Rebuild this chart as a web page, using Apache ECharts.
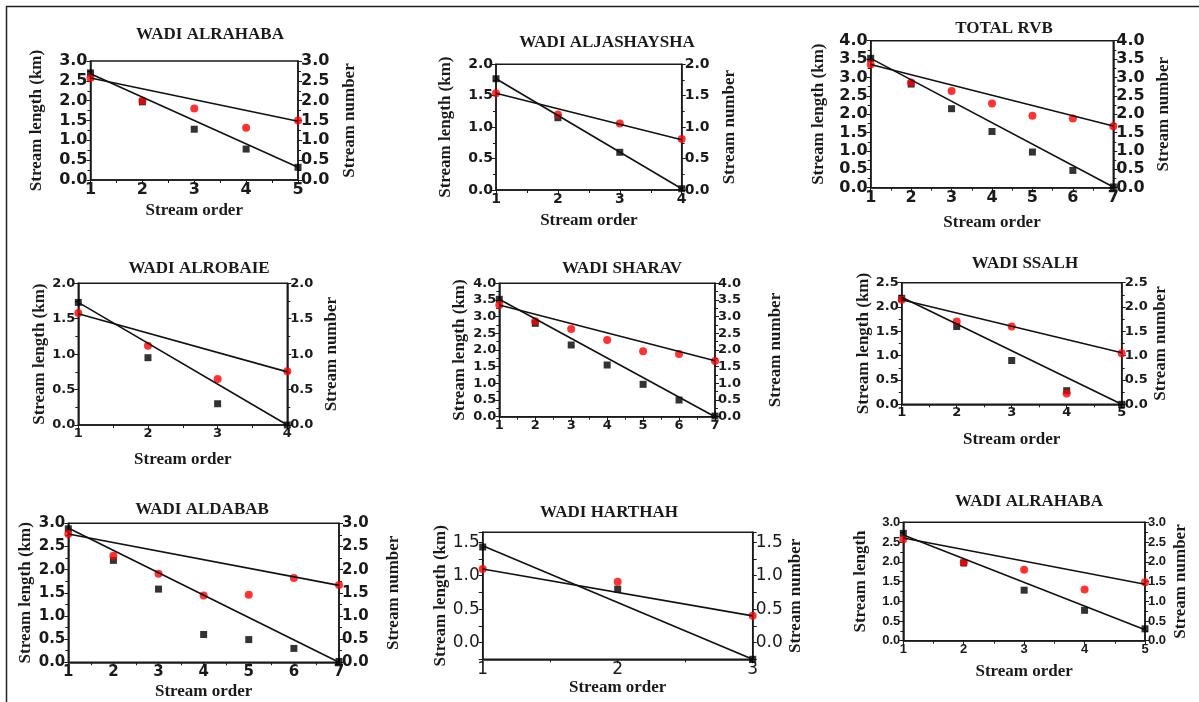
<!DOCTYPE html>
<html>
<head>
<meta charset="utf-8">
<script src="https://cdn.jsdelivr.net/npm/echarts@6/dist/echarts.min.js"></script>
<style>
html,body{margin:0;padding:0;background:#fff;}
#chart{width:1199px;height:702px;}
</style>
</head>
<body>
<div id="chart"></div>
<script>
// ---------------- DATA ----------------
const titles = ['WADI ALRAHABA','WADI ALJASHAYSHA','TOTAL RVB','WADI ALROBAIE','WADI SHARAV','WADI SSALH','WADI ALDABAB','WADI HARTHAH','WADI ALRAHABA'];

const orders1 = [1,2,3,4,5];
const length1 = [2.70,1.97,1.28,0.78,0.32];
const number1 = [2.57,2.00,1.80,1.32,1.50];
const lengthFit1 = [2.68,0.32];
const numberFit1 = [2.57,1.48];

const orders2 = [1,2,3,4];
const length2 = [1.77,1.15,0.60,0.02];
const number2 = [1.54,1.20,1.06,0.81];
const lengthFit2 = [1.77,0.02];
const numberFit2 = [1.54,0.80];

const orders3 = [1,2,3,4,5,6,7];
const length3 = [3.52,2.82,2.15,1.53,0.97,0.47,0.02];
const number3 = [3.35,2.86,2.63,2.29,1.96,1.88,1.67];
const lengthFit3 = [3.52,0.02];
const numberFit3 = [3.35,1.68];

const orders4 = [1,2,3,4];
const length4 = [1.73,0.95,0.30,0.00];
const number4 = [1.58,1.12,0.65,0.76];
const lengthFit4 = [1.73,0.00];
const numberFit4 = [1.57,0.75];

const orders5 = [1,2,3,4,5,6,7];
const length5 = [3.52,2.80,2.15,1.55,0.97,0.50,0.02];
const number5 = [3.35,2.86,2.63,2.30,1.96,1.88,1.67];
const lengthFit5 = [3.52,0.00];
const numberFit5 = [3.35,1.68];

const orders6 = [1,2,3,4,5];
const length6 = [2.18,1.60,0.90,0.28,0.00];
const number6 = [2.15,1.70,1.60,0.22,1.05];
const lengthFit6 = [2.20,0.00];
const numberFit6 = [2.15,1.06];

const orders7 = [1,2,3,4,5,6,7];
const length7 = [2.88,2.20,1.58,0.60,0.49,0.30,0.02];
const number7 = [2.77,2.30,1.91,1.44,1.46,1.82,1.67];
const lengthFit7 = [2.90,0.00];
const numberFit7 = [2.77,1.66];

const orders8 = [1,2,3];
const length8 = [1.43,0.80,-0.25];
const number8 = [1.10,0.91,0.40];
const lengthFit8 = [1.45,-0.25];
const numberFit8 = [1.10,0.40];

const orders9 = [1,2,3,4,5];
const length9 = [2.72,1.97,1.28,0.77,0.30];
const number9 = [2.57,1.98,1.80,1.30,1.48];
const lengthFit9 = [2.68,0.28];
const numberFit9 = [2.60,1.43];

// axis ranges (tick labels)
const yMins = [0,0,0,0,0,0,0,-0.25,0];
const yMaxs = [3,2,4,2,4,2.5,3,1.65,3];
const ySteps = [0.5,0.5,0.5,0.5,0.5,0.5,0.5,0.25,0.5];
const leftNames = ['Stream length (km)','Stream length (km)','Stream length (km)','Stream length (km)','Stream length (km)','Stream length (km)','Stream length (km)','Stream length (km)','Stream length'];
const rightName = 'Stream number';
const xName = 'Stream order';
const showXName = [true,true,true,true,false,true,true,true,true];

const panels = [
  [orders1,length1,number1,lengthFit1,numberFit1],
  [orders2,length2,number2,lengthFit2,numberFit2],
  [orders3,length3,number3,lengthFit3,numberFit3],
  [orders4,length4,number4,lengthFit4,numberFit4],
  [orders5,length5,number5,lengthFit5,numberFit5],
  [orders6,length6,number6,lengthFit6,numberFit6],
  [orders7,length7,number7,lengthFit7,numberFit7],
  [orders8,length8,number8,lengthFit8,numberFit8],
  [orders9,length9,number9,lengthFit9,numberFit9]
];

// ---------------- LAYOUT ----------------
const layout = [
  {g:[90.5,61,207.5,119],  t:[205,30],  lg:45, rg:43, xg:22, fs:16, fw:'bold', ff:'DejaVu Sans'},
  {g:[496,64.3,185.7,125.7],t:[602,38], lg:42, rg:39, xg:22, fs:14, fw:'bold', ff:'DejaVu Sans'},
  {g:[870.7,40.7,242.6,147],t:[999,24], lg:44, rg:42, xg:26, fs:16, fw:'bold', ff:'DejaVu Sans'},
  {g:[78.3,283.3,209,141.7],t:[194,264],lg:30, rg:36, xg:26, fs:13, fw:'bold', ff:'DejaVu Sans'},
  {g:[499.3,283.3,215.7,133.4],t:[617,264],lg:31, rg:52, xg:22, fs:13, fw:'bold', ff:'DejaVu Sans'},
  {g:[901.7,282.7,220,121.6],t:[1020,259],lg:28, rg:26, xg:27, fs:13, fw:'bold', ff:'DejaVu Sans'},
  {g:[68.3,523.3,270.7,139],t:[197,505],lg:34, rg:46, xg:21, fs:15, fw:'bold', ff:'DejaVu Sans'},
  {g:[482.7,532.3,270,127],t:[604,508], lg:30, rg:26, xg:6,  fs:17, fw:'normal', ff:'DejaVu Sans'},
  {g:[903.3,522.3,241.7,118.4],t:[1024,497],lg:34, rg:27, xg:22, fs:13, fw:'bold', ff:'Liberation Sans'}
];

const INK = '#1a1a1a';
const serif = 'Liberation Serif';

const option = {
  animation:false,
  backgroundColor:'#fff',
  title:[], grid:[], xAxis:[], yAxis:[], series:[],
  graphic:[
    {type:'line', shape:{x1:6,y1:6.5,x2:1199,y2:6.5}, style:{stroke:'#222',lineWidth:1.5}},
    {type:'line', shape:{x1:6.5,y1:6,x2:6.5,y2:702}, style:{stroke:'#222',lineWidth:1.5}}
  ]
};

function fmt(v){
  const r = Math.round(v*2)/2;
  if (Math.abs(v - r) > 1e-6) return '';
  return r.toFixed(1);
}

panels.forEach((p, i) => {
  const L = layout[i];
  const [ord, len, num, lf, nf] = p;
  option.title.push({
    text: titles[i], left: L.t[0], top: L.t[1], textAlign:'center', textVerticalAlign:'middle',
    textStyle:{fontFamily:serif, fontWeight:'bold', fontSize:17, color:INK}
  });
  option.grid.push({
    left:L.g[0], top:L.g[1], width:L.g[2], height:L.g[3],
    show:true, borderColor:INK, borderWidth:1.5, backgroundColor:'transparent'
  });
  const labelStyle = {fontFamily:L.ff, fontWeight:L.fw, fontSize:L.fs, color:INK};
  option.xAxis.push({
    type:'value', gridIndex:i, min:ord[0], max:ord[ord.length-1], interval:1,
    name: showXName[i] ? xName : '', nameLocation:'middle', nameGap:L.xg,
    nameTextStyle:{fontFamily:serif, fontWeight:'bold', fontSize:17, color:INK},
    axisLine:{show:true, onZero:false, lineStyle:{color:INK, width:1.5}},
    axisTick:{show:true, length:4, lineStyle:{color:INK}},
    minorTick:{show:true, splitNumber:2, length:3, lineStyle:{color:INK}},
    splitLine:{show:false},
    axisLabel:Object.assign({margin:2}, labelStyle)
  });
  const yCommon = {
    type:'value', gridIndex:i, min:yMins[i], max:yMaxs[i], interval:ySteps[i],
    nameLocation:'middle', nameRotate:90,
    nameTextStyle:{fontFamily:serif, fontWeight:'bold', fontSize:17, color:INK},
    axisLine:{show:true, onZero:false, lineStyle:{color:INK, width:1.5}},
    axisTick:{show:true, length:4, lineStyle:{color:INK}},
    minorTick:{show: ySteps[i] === 0.5, splitNumber:2, length:3, lineStyle:{color:INK}},
    splitLine:{show:false},
    axisLabel:Object.assign({margin:3, formatter:fmt, showMaxLabel:true}, labelStyle)
  };
  option.yAxis.push(Object.assign({}, yCommon, {position:'left', name:leftNames[i], nameGap:L.lg}));
  option.yAxis.push(Object.assign({}, yCommon, {position:'right', name:rightName, nameGap:L.rg}));
  const yl = 2*i, yr = 2*i+1;
  option.series.push({
    type:'scatter', xAxisIndex:i, yAxisIndex:yl, symbol:'rect', symbolSize:7,
    itemStyle:{color:'#000'}, data: ord.map((o,k)=>[o,len[k]]), z:3
  });
  option.series.push({
    type:'scatter', xAxisIndex:i, yAxisIndex:yr, symbol:'circle', symbolSize:8,
    itemStyle:{color:'#ff0000'}, data: ord.map((o,k)=>[o,num[k]]), z:4
  });
  option.series.push({
    type:'line', xAxisIndex:i, yAxisIndex:yl, symbol:'none', silent:true,
    lineStyle:{color:'#111', width:1.6}, data:[[ord[0],lf[0]],[ord[ord.length-1],lf[1]]], z:5
  });
  option.series.push({
    type:'line', xAxisIndex:i, yAxisIndex:yr, symbol:'none', silent:true,
    lineStyle:{color:'#111', width:1.6}, data:[[ord[0],nf[0]],[ord[ord.length-1],nf[1]]], z:5
  });
});

const chart = echarts.init(document.getElementById('chart'), null, {renderer:'canvas'});
chart.setOption(option);
</script>
</body>
</html>
